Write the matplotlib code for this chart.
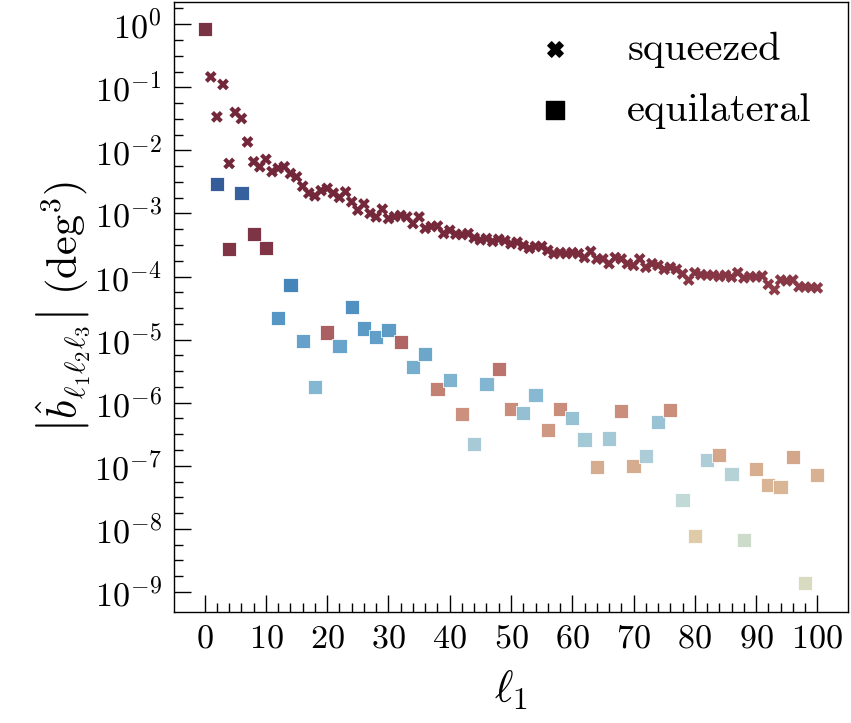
import numpy as np
import matplotlib
matplotlib.use("Agg")
import matplotlib.pyplot as plt
from matplotlib.colors import LinearSegmentedColormap, Normalize
from matplotlib.ticker import FixedLocator, NullFormatter, LogFormatterSciNotation

plt.rcParams['font.family'] = 'serif'
plt.rcParams['font.serif'] = ['cmr10', 'DejaVu Serif']
plt.rcParams['mathtext.fontset'] = 'cm'
plt.rcParams['axes.formatter.use_mathtext'] = True
plt.rcParams['axes.unicode_minus'] = False

# ---- data ----
squeezed_ell = list(range(1, 101))
squeezed_vals = [
    0.146, 0.034, 0.111, 0.0062, 0.040, 0.032, 0.0136, 0.0066, 0.0055, 0.0072,
    0.0046, 0.0052, 0.0055, 0.0043, 0.0038, 0.0027, 0.0021, 0.0019, 0.0023, 0.0025,
    0.0021, 0.0018, 0.0022, 0.00153, 0.00113, 0.00141, 0.00100, 0.00088, 0.00117, 0.00083,
    0.00089, 0.00093, 0.00088, 0.00069, 0.00088, 0.00058, 0.00062, 0.00063, 0.00048, 0.00054,
    0.00047, 0.00046, 0.00048, 0.00041, 0.00038, 0.00040, 0.00036, 0.00039, 0.00037, 0.00033,
    0.00035, 0.00031, 0.00028, 0.00030, 0.00030, 0.00026, 0.00023, 0.00024, 0.00023, 0.00024,
    0.00023, 0.00020, 0.00025, 0.00019, 0.00019, 0.00016, 0.00020, 0.00019, 0.00016, 0.00015,
    0.00019, 0.00014, 0.00016, 0.00015, 0.00013, 0.00014, 0.00013, 0.00011, 0.000088, 0.000115,
    0.000107, 0.000105, 0.000105, 0.000100, 0.000105, 0.000098, 0.000115, 0.000095, 0.000100, 0.000098,
    0.000102, 0.000075, 0.000062, 0.000088, 0.000085, 0.000088, 0.000069, 0.000068, 0.000067, 0.000066,
]

equilateral_ell = list(range(0, 101, 2))
equilateral_vals = [
    0.83, -2.9e-3, 2.7e-4, -2.1e-3, 4.7e-4, 2.8e-4, -2.2e-5, -7.3e-5, -9.5e-6, -1.77e-6,
    1.3e-5, -7.9e-6, -3.3e-5, -1.5e-5, -1.1e-5, -1.4e-5, 9.1e-6, -3.7e-6, -5.9e-6, 1.65e-6,
    -2.3e-6, 6.6e-7, -2.2e-7, -2.0e-6, 3.4e-6, 7.9e-7, -6.8e-7, -1.32e-6, 3.7e-7, 7.9e-7,
    -5.7e-7, -2.6e-7, 9.5e-8, -2.7e-7, 7.4e-7, 1.0e-7, -1.42e-7, -4.9e-7, 7.6e-7, -2.9e-8,
    7.7e-9, -1.23e-7, 1.5e-7, -7.4e-8, -6.6e-9, 8.9e-8, 4.9e-8, 4.6e-8, 1.38e-7, -1.38e-9,
    7.1e-8,
]

xticks = [0, 10, 20, 30, 40, 50, 60, 70, 80, 90, 100]
ydecades = list(range(-9, 1))

# ---- colour map (signed log magnitude) ----
nodes = [
    (-7.0, '#2a5494'), (-5.35, '#3d80b7'), (-4.8, '#4e92c2'), (-3.7, '#80b5d0'),
    (-2.8, '#a4c9d5'), (-1.9, '#c0d9d5'), (-1.3, '#ccd9c8'), (-0.65, '#d6d9bd'),
    (0.0, '#d9d9b9'), (1.35, '#dfcaa5'), (2.5, '#d4a888'), (3.35, '#c98a76'),
    (3.7, '#c07a6c'), (4.5, '#ac5c5c'), (5.3, '#8d3c48'), (6.0, '#77293b'), (7.0, '#72283a'),
]
cmap = LinearSegmentedColormap.from_list(
    'signedlog', [((v + 7.0) / 14.0, c) for v, c in nodes])
norm = Normalize(vmin=-7.0, vmax=7.0, clip=True)
floor = -9.5

def signed_c(vals):
    v = np.asarray(vals, dtype=float)
    return np.sign(v) * (np.log10(np.abs(v)) - floor)

fig = plt.figure(figsize=(8.51, 7.23), dpi=100)
ax = fig.add_axes([174 / 851, (723 - 612) / 723, (848 - 174) / 851, (612 - 2) / 723])

sq_abs = np.abs(np.asarray(squeezed_vals))
eq_abs = np.abs(np.asarray(equilateral_vals))

ax.scatter(equilateral_ell, eq_abs, marker='s', s=105,
           c=signed_c(equilateral_vals), cmap=cmap, norm=norm,
           edgecolors='white', linewidths=0.6, alpha=0.95, zorder=2)
ax.scatter(squeezed_ell, sq_abs, marker='X', s=72,
           c=signed_c(squeezed_vals), cmap=cmap, norm=norm,
           edgecolors='none', zorder=3)

ax.set_yscale('log')
ax.set_xlim(-5, 105)
ax.set_ylim(4.8e-10, 2.25)

ax.set_xticks(xticks)
ax.xaxis.set_minor_locator(FixedLocator(np.arange(0, 101, 2)))
ax.yaxis.set_major_locator(FixedLocator([10.0 ** d for d in ydecades]))
ax.yaxis.set_major_formatter(LogFormatterSciNotation())
minor = [10.0 ** (d + f) for d in range(-9, 1) for f in (0.25, 0.5, 0.75)]
minor = [m for m in minor if m < 2.0]
ax.yaxis.set_minor_locator(FixedLocator(minor))
ax.yaxis.set_minor_formatter(NullFormatter())

ax.tick_params(which='both', direction='in', top=False, right=False, labelsize=24.5, width=1.0)
ax.tick_params(which='major', length=12.5, pad=9)
ax.tick_params(which='minor', length=6.3)
for sp in ax.spines.values():
    sp.set_linewidth(1.0)

ax.set_xlabel(r'$\ell_1$', fontsize=32, labelpad=11)
ax.set_ylabel(r'$\left|\hat{b}_{\ell_1\ell_2\ell_3}\right|\ (\mathrm{deg}^3)$', fontsize=30.5, labelpad=1)

h1 = ax.scatter([], [], marker='X', s=72, color='black', label='squeezed')
h2 = ax.scatter([], [], marker='s', s=105, color='black', label='equilateral')
leg = ax.legend(handles=[h1, h2], loc='upper right', bbox_to_anchor=(0.970, 0.978),
                frameon=False, fontsize=29, handletextpad=1.3, labelspacing=0.62,
                handlelength=1.0, borderaxespad=0.0, markerscale=1.3)

fig.savefig('out.png', dpi=100)
